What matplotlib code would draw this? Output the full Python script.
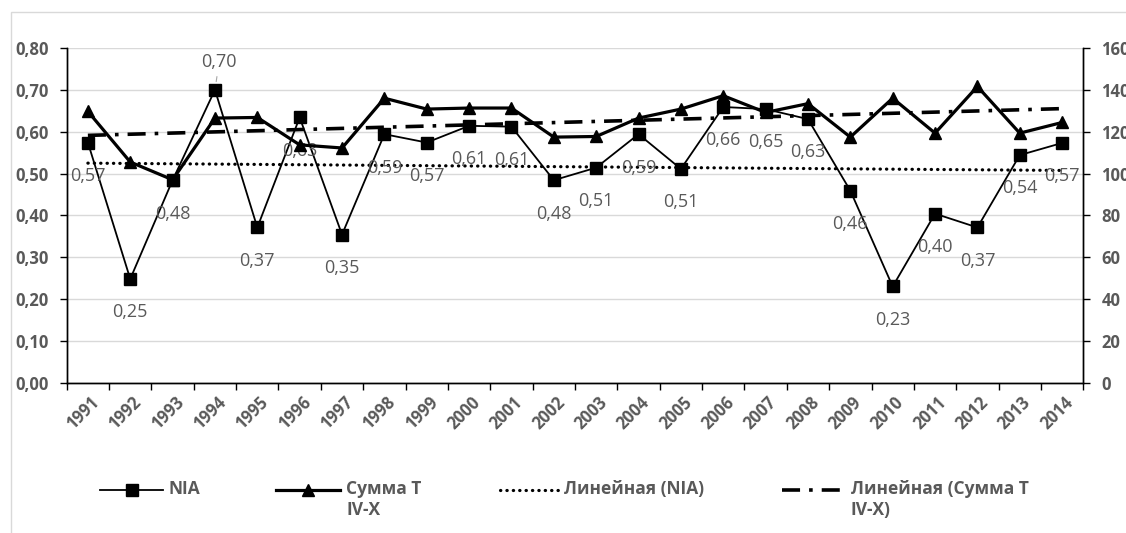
import numpy as np
import matplotlib
matplotlib.use("Agg")
import matplotlib.pyplot as plt
import matplotlib.transforms as mtransforms
from matplotlib.lines import Line2D
from matplotlib.patches import Rectangle

# data
years = [str(y) for y in range(1991, 2015)]
nia = [0.574, 0.248, 0.484, 0.700, 0.371, 0.634, 0.354, 0.594, 0.574, 0.614, 0.612, 0.484,
       0.514, 0.594, 0.511, 0.659, 0.654, 0.630, 0.459, 0.230, 0.404, 0.371, 0.544, 0.573]
sum_t = [129.7, 105.5, 97.0, 126.5, 126.8, 113.7, 112.2, 136.0, 130.8, 131.3, 131.3, 117.4,
         117.7, 126.5, 130.8, 137.2, 129.2, 133.4, 117.4, 136.0, 119.3, 141.6, 119.3, 124.4]
left_ticks = [0.0, 0.1, 0.2, 0.3, 0.4, 0.5, 0.6, 0.7, 0.8]
right_ticks = [0, 20, 40, 60, 80, 100, 120, 140, 160]

W, H = 1126, 533
gray = "#595959"
grid_c = "#d9d9d9"
plt.rcParams['font.family'] = ['Open Sans', 'DejaVu Sans']

# line styles
st_nia = dict(color="black", lw=1.3, marker="s", ms=8, linestyle="-")
st_sum = dict(color="black", lw=2.3, marker="^", ms=8, linestyle="-")
st_tr1 = dict(color="black", lw=2.3, linestyle=(0, (0.1, 1.9)), dash_capstyle="round")
st_tr2 = dict(color="black", lw=2.6, linestyle=(0, (5, 2.5, 1, 2.5)))

fig = plt.figure(figsize=(W / 100, H / 100), dpi=100)
ax = fig.add_axes([66.7 / W, 1 - 382.7 / H, (1083.3 - 66.7) / W, (382.7 - 48) / H])
ax2 = ax.twinx()

x = np.arange(len(years))

# trend lines (linear, like Excel)
xi = np.arange(1, len(years) + 1)
k1, b1 = np.polyfit(xi, nia, 1)
k2, b2 = np.polyfit(xi, sum_t, 1)

ax.plot(x, nia, zorder=3, **st_nia)
ax.plot(x, k1 * xi + b1, zorder=2, **st_tr1)
ax2.plot(x, sum_t, zorder=3, **st_sum)
ax2.plot(x, k2 * xi + b2, zorder=2, **st_tr2)

# axes setup
ax.set_xlim(-0.5, len(years) - 0.5)
ax.set_ylim(0, 0.8)
ax2.set_ylim(0, 160)
ax.set_yticks(left_ticks)
ax.set_yticklabels([f"{v:.2f}".replace(".", ",") for v in left_ticks])
ax2.set_yticks(right_ticks)
ax2.set_yticklabels([str(v) for v in right_ticks])
ax.grid(axis="y", color=grid_c, lw=1)
ax.set_axisbelow(True)

ax.set_xticks(x)
ax.set_xticklabels(years)
ax.set_xticks(np.arange(-0.5, len(years)), minor=True)
ax.tick_params(axis="x", which="major", length=0, pad=12)
ax.tick_params(axis="x", which="minor", length=5, width=1, color="black", direction="out")
ax.tick_params(axis="y", length=5, width=1, color="black", pad=8)
ax2.tick_params(axis="y", length=5, width=1, color="black", pad=8)

offset = mtransforms.ScaledTranslation(6 / 72, 0, fig.dpi_scale_trans)
for lab in ax.get_xticklabels():
    lab.set_rotation(45)
    lab.set_ha("right")
    lab.set_va("center")
    lab.set_rotation_mode("anchor")
    lab.set_transform(lab.get_transform() + offset)
for lab in ax.get_xticklabels() + ax.get_yticklabels() + ax2.get_yticklabels():
    lab.set_fontsize(12)
    lab.set_fontweight("bold")
    lab.set_color(gray)

for a in (ax, ax2):
    a.spines["top"].set_visible(False)
    for s in ("left", "right", "bottom"):
        a.spines[s].set_color("black")
        a.spines[s].set_linewidth(1)

# data labels for NIA
for i, v in enumerate(nia):
    txt = f"{v:.2f}".replace(".", ",")
    if years[i] == "1994":
        ax.annotate(txt, (i, v), xytext=(3, 20), textcoords="offset points", ha="center",
                    va="center", fontsize=13, color=gray, annotation_clip=False,
                    arrowprops=dict(arrowstyle="-", color="#a6a6a6", lw=0.8, shrinkA=2, shrinkB=6))
    else:
        ax.annotate(txt, (i, v), xytext=(0, -24), textcoords="offset points", ha="center",
                    va="center", fontsize=13, color=gray, annotation_clip=False)

# chart border
fig.add_artist(Rectangle((11 / W, -0.5), 2, 1.5 - 12 / H, transform=fig.transFigure,
                         fill=False, edgecolor=grid_c, lw=1))

# legend (drawn by hand to follow Excel placement)
entries = [
    (st_nia, "NIA", 100, 163),
    (st_sum, "Сумма Т\nIV-X", 276, 340),
    (st_tr1, "Линейная (NIA)", 500, 558),
    (st_tr2, "Линейная (Сумма Т\nIV-X)", 782, 845),
]
ly = 490
for st, text, x0, x1 in entries:
    line_st = {k: v for k, v in st.items() if k not in ("marker", "ms")}
    fig.add_artist(Line2D([x0 / W, x1 / W], [1 - ly / H, 1 - ly / H], transform=fig.transFigure,
                          **line_st))
    if "marker" in st:
        fig.add_artist(Line2D([(x0 + x1) / 2 / W], [1 - ly / H], transform=fig.transFigure,
                              color="black", marker=st["marker"], ms=st["ms"], lw=0))
    fig.text((x1 + 6) / W, 1 - (ly - 10) / H, text, fontsize=12.5, fontweight="bold", color=gray,
             ha="left", va="top", linespacing=1.2)

fig.savefig("out.png", dpi=100)
